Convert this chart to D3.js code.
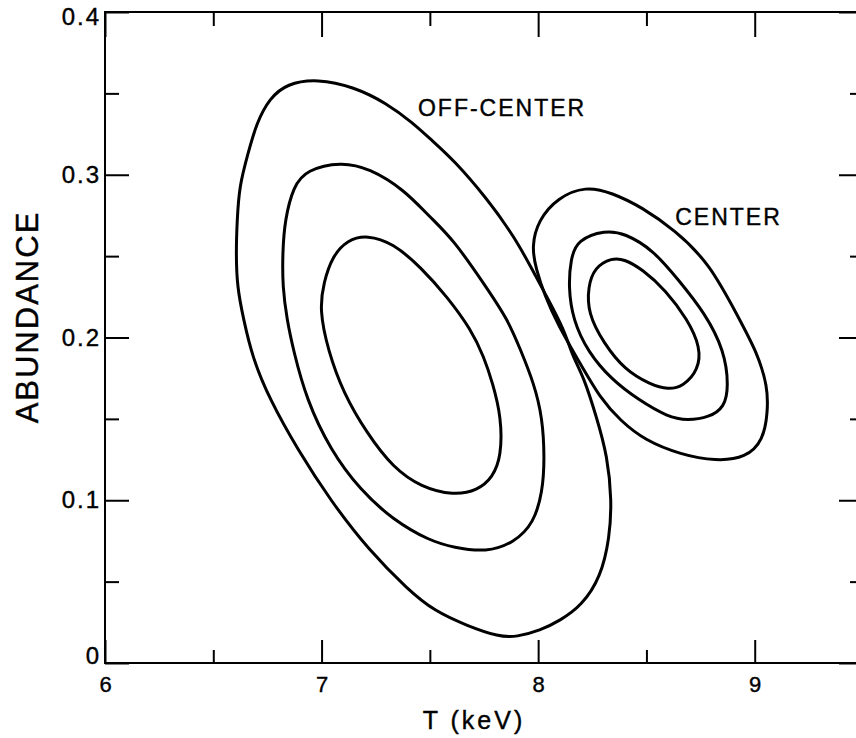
<!DOCTYPE html>
<meta charset="utf-8">
<style>
body {
  background: #fff;
  margin: 0;
  padding: 0;
}
svg {
  display: block;
}
.frame {
  fill: none;
  stroke: #000;
  stroke-width: 2px;
}
.axis path {
  display: none;
}
.axis line {
  stroke: #000;
  stroke-width: 2px;
}
.axis text {
  font-family: 'Liberation Sans', Arial, sans-serif;
  fill: #000;
  stroke: #000;
  stroke-width: 0.4px;
}
.contour {
  fill: none;
  stroke: #000;
  stroke-width: 3px;
}
.label {
  font-family: 'Liberation Sans', Arial, sans-serif;
  fill: #000;
  stroke: #000;
  stroke-width: 0.4px;
}
</style>
<body>
<script src="https://cdn.jsdelivr.net/npm/d3@7"></script>
<script>
// tick values
var tMajor = [6, 7, 8, 9],
    tMinor = [6.5, 7.5, 8.5, 9.5],
    aMajor = [0, 0.1, 0.2, 0.3, 0.4],
    aMinor = [0.05, 0.15, 0.25, 0.35];

// contours, [T (keV), abundance]
var offCenterOuter = [
  [6.98,0.359],[7.15,0.354],[7.30,0.344],[7.42,0.332],[7.51,0.321],[7.61,0.309],
  [7.76,0.286],[7.89,0.262],[7.98,0.240],[8.04,0.225],[8.12,0.205],[8.16,0.188],
  [8.21,0.176],[8.27,0.151],[8.32,0.127],[8.34,0.100],[8.33,0.077],[8.29,0.053],
  [8.20,0.035],[8.10,0.026],[8.01,0.020],[7.90,0.016],[7.82,0.016],[7.67,0.023],
  [7.52,0.032],[7.40,0.045],[7.22,0.069],[7.04,0.100],[6.89,0.131],[6.76,0.162],
  [6.68,0.188],[6.64,0.211],[6.61,0.231],[6.605,0.252],[6.61,0.272],[6.62,0.293],
  [6.66,0.313],[6.70,0.332],[6.76,0.347],[6.84,0.356]
];
var offCenterMiddle = [
  [7.09,0.308],[7.22,0.304],[7.38,0.291],[7.50,0.274],[7.61,0.260],[7.76,0.231],
  [7.86,0.211],[7.92,0.192],[7.98,0.172],[8.02,0.151],[8.03,0.125],[8.02,0.105],
  [7.98,0.086],[7.89,0.074],[7.76,0.068],[7.61,0.071],[7.50,0.075],[7.33,0.088],
  [7.18,0.106],[7.04,0.131],[6.93,0.162],[6.87,0.192],[6.84,0.211],[6.82,0.231],
  [6.82,0.252],[6.83,0.272],[6.87,0.293],[6.93,0.303]
];
var offCenterInner = [
  [7.21,0.263],[7.33,0.258],[7.46,0.243],[7.58,0.225],[7.69,0.205],[7.75,0.188],
  [7.79,0.172],[7.83,0.151],[7.83,0.127],[7.79,0.114],[7.72,0.106],[7.61,0.103],
  [7.46,0.108],[7.33,0.120],[7.21,0.141],[7.10,0.166],[7.03,0.192],[6.99,0.217],
  [7.01,0.234],[7.05,0.250],[7.12,0.260]
];
var centerOuter = [
  [8.22,0.293],[8.34,0.289],[8.48,0.280],[8.63,0.266],[8.79,0.246],[8.93,0.211],
  [9.01,0.191],[9.06,0.170],[9.06,0.154],[9.04,0.137],[8.96,0.126],[8.82,0.124],
  [8.66,0.128],[8.49,0.137],[8.38,0.149],[8.29,0.162],[8.19,0.185],[8.09,0.208],
  [8.03,0.226],[7.99,0.242],[7.97,0.256],[8.00,0.272],[8.09,0.286]
];
var centerMiddle = [
  [8.31,0.266],[8.40,0.264],[8.53,0.254],[8.65,0.235],[8.77,0.215],[8.86,0.192],
  [8.88,0.170],[8.86,0.157],[8.79,0.151],[8.69,0.149],[8.60,0.151],[8.46,0.162],
  [8.34,0.174],[8.23,0.191],[8.16,0.211],[8.14,0.231],[8.15,0.248],[8.18,0.260]
];
var centerInner = [
  [8.34,0.249],[8.40,0.248],[8.48,0.242],[8.59,0.229],[8.69,0.211],[8.75,0.194],
  [8.74,0.180],[8.67,0.170],[8.60,0.168],[8.52,0.171],[8.40,0.180],[8.30,0.197],
  [8.23,0.215],[8.23,0.231],[8.26,0.243]
];
var contours = [offCenterOuter, offCenterMiddle, offCenterInner,
                centerOuter, centerMiddle, centerInner];

var labels = [
  {text: "OFF-CENTER", t: 7.445, a: 0.336},
  {text: "CENTER", t: 8.633, a: 0.269}
];

var width = 856,
    height = 738,
    margin = {left: 105, top: 12},
    plotW = 758,
    plotH = 651;

var x = d3.scaleLinear().domain([6, 9.5]).range([margin.left, margin.left + plotW]);
var y = d3.scaleLinear().domain([0, 0.4]).range([margin.top + plotH, margin.top]);

var svg = d3.select("body").append("svg")
    .attr("width", width)
    .attr("height", height);

svg.append("rect")
    .attr("class", "frame")
    .attr("x", x(6))
    .attr("y", y(0.4))
    .attr("width", x(9.5) - x(6))
    .attr("height", y(0) - y(0.4));

function fmtA(d) { return d === 0 ? "0" : d3.format(".1f")(d); }

// bottom
svg.append("g").attr("class", "axis")
    .attr("transform", "translate(0," + y(0) + ")")
    .call(d3.axisBottom(x).tickValues(tMajor).tickSize(-23).tickSizeOuter(0).tickPadding(13).tickFormat(d3.format("d")))
    .selectAll("text").style("font-size", "22px");
svg.append("g").attr("class", "axis")
    .attr("transform", "translate(0," + y(0) + ")")
    .call(d3.axisBottom(x).tickValues(tMinor).tickSize(-13).tickSizeOuter(0).tickFormat(""));
// top
svg.append("g").attr("class", "axis")
    .attr("transform", "translate(0," + y(0.4) + ")")
    .call(d3.axisTop(x).tickValues(tMajor).tickSize(-25).tickSizeOuter(0).tickFormat(""));
svg.append("g").attr("class", "axis")
    .attr("transform", "translate(0," + y(0.4) + ")")
    .call(d3.axisTop(x).tickValues(tMinor).tickSize(-14).tickSizeOuter(0).tickFormat(""));
// left; end labels sit a little inside the frame as in the original
svg.append("g").attr("class", "axis")
    .attr("transform", "translate(" + x(6) + ",0)")
    .call(d3.axisLeft(y).tickValues(aMajor).tickSize(-24).tickSizeOuter(0).tickPadding(4).tickFormat(fmtA))
    .selectAll("text")
    .style("font-size", "24px")
    .style("letter-spacing", "2px")
    .attr("transform", function(d) {
      return d === 0.4 ? "translate(0,5)" : d === 0 ? "translate(0,-7)" : null;
    });
svg.append("g").attr("class", "axis")
    .attr("transform", "translate(" + x(6) + ",0)")
    .call(d3.axisLeft(y).tickValues(aMinor).tickSize(-14).tickSizeOuter(0).tickFormat(""));
// right
svg.append("g").attr("class", "axis")
    .attr("transform", "translate(" + x(9.5) + ",0)")
    .call(d3.axisRight(y).tickValues(aMajor).tickSize(-24).tickSizeOuter(0).tickFormat(""));
svg.append("g").attr("class", "axis")
    .attr("transform", "translate(" + x(9.5) + ",0)")
    .call(d3.axisRight(y).tickValues(aMinor).tickSize(-13).tickSizeOuter(0).tickFormat(""));

var line = d3.line()
    .x(function(d) { return x(d[0]); })
    .y(function(d) { return y(d[1]); })
    .curve(d3.curveBasisClosed);

svg.selectAll(".contour")
    .data(contours)
  .enter().append("path")
    .attr("class", "contour")
    .attr("d", line);

svg.selectAll(".label")
    .data(labels)
  .enter().append("text")
    .attr("class", "label")
    .attr("x", function(d) { return x(d.t); })
    .attr("y", function(d) { return y(d.a); })
    .style("font-size", "23px")
    .style("letter-spacing", "2px")
    .text(function(d) { return d.text; });

// axis titles
svg.append("text")
    .attr("class", "label")
    .attr("x", 474)
    .attr("y", 729)
    .attr("text-anchor", "middle")
    .style("font-size", "25px")
    .style("letter-spacing", "3px")
    .text("T (keV)");

svg.append("text")
    .attr("class", "label")
    .attr("transform", "translate(38,317) rotate(-90)")
    .attr("text-anchor", "middle")
    .style("font-size", "31px")
    .style("letter-spacing", "2px")
    .text("ABUNDANCE");
</script>
